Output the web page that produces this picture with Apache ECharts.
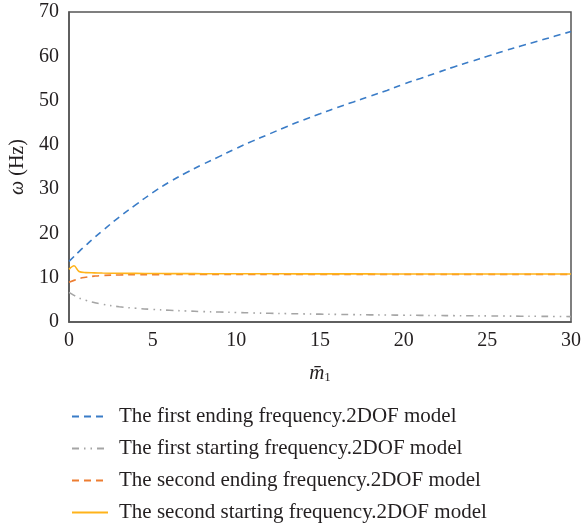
<!DOCTYPE html>
<html>
<head>
<meta charset="utf-8">
<script src="https://cdn.jsdelivr.net/npm/echarts@6/dist/echarts.min.js"></script>
<style>
  html, body { margin: 0; padding: 0; background: #fff; }
  #chart { width: 585px; height: 529px; }
</style>
</head>
<body>
<div id="chart"></div>
<script>
// x values (m1 bar)
var xVals = [0, 0.3, 0.6, 1, 1.5, 2, 3, 4, 5, 6, 7, 8, 9, 10, 11, 12, 13, 14, 15, 16, 17, 18, 19, 20, 21, 22, 23, 24, 25, 26, 27, 28, 29, 30];

var firstEnding = [13.7, 14.8, 15.9, 17.3, 19.0, 20.6, 23.7, 26.5, 29.2, 31.6, 33.7, 35.6, 37.4, 39.2, 40.9, 42.5, 44.1, 45.6, 47.0, 48.4, 49.7, 51.0, 52.3, 53.7, 55.0, 56.3, 57.6, 58.8, 60.0, 61.2, 62.3, 63.4, 64.5, 65.6];
var firstStarting = [6.7, 6.0, 5.4, 4.9, 4.4, 4.0, 3.45, 3.1, 2.85, 2.65, 2.5, 2.35, 2.25, 2.15, 2.05, 1.97, 1.9, 1.83, 1.77, 1.72, 1.67, 1.62, 1.58, 1.54, 1.5, 1.46, 1.43, 1.4, 1.37, 1.34, 1.31, 1.28, 1.25, 1.22];
var secondEnding = [9.0, 9.4, 9.8, 10.1, 10.35, 10.5, 10.62, 10.68, 10.7, 10.72, 10.73, 10.74, 10.74, 10.75, 10.75, 10.75, 10.75, 10.75, 10.75, 10.75, 10.75, 10.75, 10.75, 10.75, 10.75, 10.75, 10.75, 10.75, 10.75, 10.75, 10.75, 10.75, 10.75, 10.75];
var secondStarting = [11.9, 12.7, 11.4, 11.15, 11.1, 11.05, 11.0, 10.97, 10.95, 10.93, 10.92, 10.91, 10.9, 10.9, 10.89, 10.88, 10.88, 10.87, 10.87, 10.86, 10.86, 10.86, 10.85, 10.85, 10.85, 10.85, 10.84, 10.84, 10.84, 10.84, 10.84, 10.83, 10.83, 10.83];

var legendNames = [
  "The first ending frequency.2DOF model",
  "The first starting frequency.2DOF model",
  "The second ending frequency.2DOF model",
  "The second starting frequency.2DOF model"
];

function pairs(ys) {
  return xVals.map(function (x, i) { return [x, ys[i]]; });
}

var chart = echarts.init(document.getElementById("chart"));
var font = "Liberation Serif";

var option = {
  animation: false,
  backgroundColor: "#fff",
  grid: {
    left: 69,
    right: 14,
    top: 12,
    bottom: 207,
    show: true,
    borderColor: "#555",
    borderWidth: 1.5
  },
  legend: {
    orient: "vertical",
    left: 66,
    top: 401,
    height: 128,
    itemWidth: 36,
    itemHeight: 12,
    itemGap: 11,
    itemStyle: { opacity: 0 },
    textStyle: { fontFamily: font, fontSize: 21, color: "#231f20", padding: [0, 0, 0, 6] },
    data: legendNames
  },
  xAxis: {
    type: "value",
    min: 0,
    max: 30,
    interval: 5,
    axisLine: { show: true, lineStyle: { color: "#555", width: 1.5 } },
    axisTick: { show: false },
    splitLine: { show: false },
    axisLabel: { fontFamily: font, fontSize: 20, color: "#231f20", margin: 9 },
    name: "{m|m̄}{s|1}",
    nameLocation: "middle",
    nameGap: 40,
    nameTextStyle: {
      rich: {
        m: { fontFamily: font, fontSize: 21, fontStyle: "italic", color: "#231f20" },
        s: { fontFamily: font, fontSize: 13, color: "#231f20", verticalAlign: "bottom", padding: [9, 0, 0, 0] }
      }
    }
  },
  yAxis: {
    type: "value",
    min: 0,
    max: 70,
    interval: 10,
    axisLine: { show: true, lineStyle: { color: "#555", width: 1.5 } },
    axisTick: { show: false },
    splitLine: { show: false },
    axisLabel: { fontFamily: font, fontSize: 20, color: "#231f20", margin: 10 },
    name: "{w|ω}{t|(Hz)}",
    nameLocation: "middle",
    nameGap: 34,
    nameRotate: 90,
    nameTextStyle: {
      rich: {
        w: { fontFamily: font, fontSize: 20, fontStyle: "italic", color: "#231f20", padding: [0, 5, 0, 0] },
        t: { fontFamily: font, fontSize: 20, color: "#231f20" }
      }
    }
  },
  series: [
    {
      name: legendNames[0],
      type: "line",
      smooth: true,
      symbol: "none",
      data: pairs(firstEnding),
      lineStyle: { color: "#3a7cc7", width: 1.6, type: [7, 5] },
      itemStyle: { color: "#3a7cc7" }
    },
    {
      name: legendNames[1],
      type: "line",
      smooth: true,
      symbol: "none",
      data: pairs(firstStarting),
      lineStyle: { color: "#a5a5a5", width: 1.6, type: [7, 5, 1.5, 5, 1.5, 5] },
      itemStyle: { color: "#a5a5a5" }
    },
    {
      name: legendNames[2],
      type: "line",
      smooth: true,
      symbol: "none",
      data: pairs(secondEnding),
      lineStyle: { color: "#ed7d31", width: 1.6, type: [7, 5] },
      itemStyle: { color: "#ed7d31" }
    },
    {
      name: legendNames[3],
      type: "line",
      smooth: 0.3,
      symbol: "none",
      data: pairs(secondStarting),
      lineStyle: { color: "#ffb31a", width: 1.6, type: "solid" },
      itemStyle: { color: "#ffb31a" }
    }
  ]
};

chart.setOption(option);
</script>
</body>
</html>
